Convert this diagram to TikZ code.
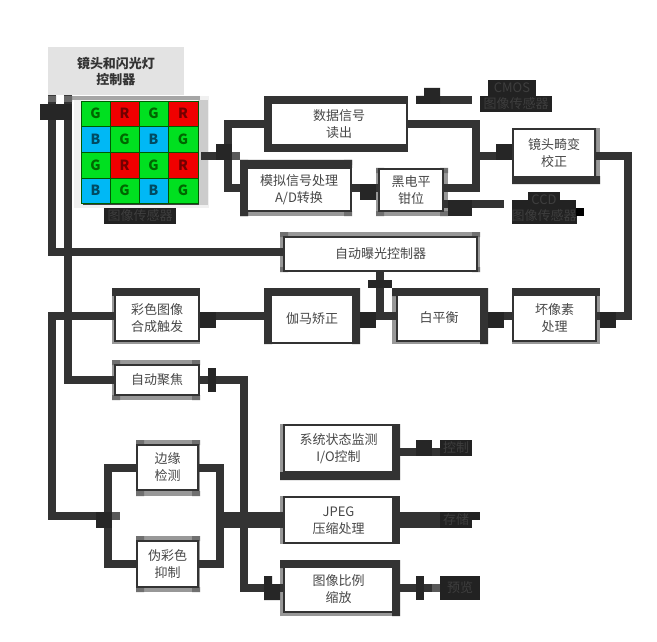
\documentclass[tikz,border=0pt]{standalone}
\usepackage{fontspec}
\setmainfont{Noto Sans CJK SC}
\usetikzlibrary{backgrounds}
\pgfdeclarelayer{bandlayer}
\pgfdeclarelayer{wirelayer}
\pgfsetlayers{bandlayer,wirelayer,main}
\definecolor{ink}{HTML}{333333}
\definecolor{blob}{HTML}{262626}
\definecolor{lab}{HTML}{222222}
\definecolor{labtext}{HTML}{3E3E3E}
\definecolor{bandc}{HTML}{989898}
\definecolor{bandd}{HTML}{707070}
\definecolor{cG}{HTML}{00E020}
\definecolor{cR}{HTML}{F00000}
\definecolor{cB}{HTML}{00B8F5}
\tikzset{
  wire/.style={draw=ink,line width=8pt},
  blobfill/.style={fill=blob},
  boxnode/.style={draw=ink,line width=2pt,fill=white,inner sep=0pt,outer sep=0pt,text=ink!90!white,font=\fontsize{13}{17}\selectfont},
  labnode/.style={fill=lab,inner sep=0pt,outer sep=0pt,align=center,text=labtext,font=\fontsize{13}{16}\selectfont},
  cellnode/.style={inner sep=0pt,outer sep=0pt,draw=black!65!green,line width=0.6pt,font=\fontsize{14}{14}\selectfont\bfseries},
}
% name, inner x1,y1,x2,y2, text
\newcommand\panel[6]{%
  \pgfmathsetmacro\pw{#4-#2+2}\pgfmathsetmacro\ph{#5-#3+2}%
  \node[boxnode,minimum width=\pw pt,minimum height=\ph pt] (#1) at ({(#2+#4)/2},{(#3+#5)/2}) {\begin{tabular}{@{}c@{}}\rule{0pt}{14.9pt}#6\end{tabular}};}
% outer gray band with darker corners
\newcommand\bandbox[4]{%
  \fill[bandc] (#1,#2) rectangle (#3,#4);
  \fill[bandd] (#1,#2) rectangle ++(8,5) (#3,#2) rectangle ++(-8,5) (#1,#4) rectangle ++(8,-5) (#3,#4) rectangle ++(-8,-5);}
% label node: name, x1,y1,x2,y2, text
\newcommand\labl[6]{%
  \pgfmathsetmacro\pw{#4-#2}\pgfmathsetmacro\ph{#5-#3}%
  \node[labnode,minimum width=\pw pt,minimum height=\ph pt] (#1) at ({(#2+#4)/2},{(#3+#5)/2}) {#6};}
\begin{document}
\begin{tikzpicture}[x=1pt,y=-1pt]
\useasboundingbox (0,0) rectangle (657,642);
\begin{pgfonlayer}{bandlayer}
\fill[white] (0,0) rectangle (657,642);
\end{pgfonlayer}

% controller
\node[fill=black!11,inner sep=0pt,outer sep=0pt,minimum width=136pt,minimum height=48pt,align=center,text=ink,font=\fontsize{13}{16.5}\selectfont\bfseries] (ctrl) at (116,71.5) {镜头和闪光灯\\控制器};

% sensor halo and cells
\begin{pgfonlayer}{bandlayer}
  \fill[black!6] (74,96) rectangle (209,208);
  \fill[black!35] (72,96) rectangle (200,100);
  \fill[black!20] (198,100) rectangle (208,205);
  \fill[black!75] (83,202) rectangle (199,205);
  \fill[black!75] (197,103) rectangle (199,205);
\end{pgfonlayer}
\node[inner sep=0pt,outer sep=0pt,minimum width=117pt,minimum height=102pt] (sens) at (139.5,152) {};
\node[cellnode,fill=cG,text=black!60!green,minimum width=29pt,minimum height=25pt] (c11) at (95.5,113.5) {G};
\node[cellnode,fill=cR,text=black!55!red,minimum width=29pt,minimum height=25pt] (c12) at (124.5,113.5) {R};
\node[cellnode,fill=cG,text=black!60!green,minimum width=29pt,minimum height=25pt] (c13) at (153.5,113.5) {G};
\node[cellnode,fill=cR,text=black!55!red,minimum width=30pt,minimum height=25pt] (c14) at (183,113.5) {R};
\node[cellnode,fill=cB,text=black!60!cB,minimum width=29pt,minimum height=26pt] (c21) at (95.5,139) {B};
\node[cellnode,fill=cG,text=black!60!green,minimum width=29pt,minimum height=26pt] (c22) at (124.5,139) {G};
\node[cellnode,fill=cB,text=black!60!cB,minimum width=29pt,minimum height=26pt] (c23) at (153.5,139) {B};
\node[cellnode,fill=cG,text=black!60!green,minimum width=30pt,minimum height=26pt] (c24) at (183,139) {G};
\node[cellnode,fill=cG,text=black!60!green,minimum width=29pt,minimum height=26pt] (c31) at (95.5,165) {G};
\node[cellnode,fill=cR,text=black!55!red,minimum width=29pt,minimum height=26pt] (c32) at (124.5,165) {R};
\node[cellnode,fill=cG,text=black!60!green,minimum width=29pt,minimum height=26pt] (c33) at (153.5,165) {G};
\node[cellnode,fill=cR,text=black!55!red,minimum width=30pt,minimum height=26pt] (c34) at (183,165) {R};
\node[cellnode,fill=cB,text=black!60!cB,minimum width=29pt,minimum height=25pt] (c41) at (95.5,190.5) {B};
\node[cellnode,fill=cG,text=black!60!green,minimum width=29pt,minimum height=25pt] (c42) at (124.5,190.5) {G};
\node[cellnode,fill=cB,text=black!60!cB,minimum width=29pt,minimum height=25pt] (c43) at (153.5,190.5) {B};
\node[cellnode,fill=cG,text=black!60!green,minimum width=30pt,minimum height=25pt] (c44) at (183,190.5) {G};

% bands round the boxes
\begin{pgfonlayer}{bandlayer}
  \fill[ink] (264,96) rectangle (408,152);
  \bandbox{240}{160}{352}{216}
  \fill[ink] (240,160) rectangle (352,168) (240,160) rectangle (248,216);
  \bandbox{376}{168}{448}{216}
  \fill[bandc] (512,128) rectangle (600,184);
  \fill[ink] (512,176) rectangle (600,184) (594,130) rectangle (596,176);
  \bandbox{280}{232}{480}{272}
  \fill[bandc] (112,288) rectangle (200,344);
  \fill[ink] (112,288) rectangle (200,296);
  \fill[bandc] (264,288) rectangle (360,344);
  \fill[ink] (264,288) rectangle (360,296) (264,288) rectangle (272,344) (352,288) rectangle (360,344);
  \fill[bandc] (392,288) rectangle (488,344);
  \fill[ink] (392,288) rectangle (488,296) (480,288) rectangle (488,344);
  \fill[bandc] (512,288) rectangle (600,344);
  \fill[ink] (512,288) rectangle (600,296);
  \bandbox{112}{360}{200}{400}
  \fill[bandc] (280,424) rectangle (400,480);
  \fill[ink] (280,472) rectangle (400,480) (392,424) rectangle (400,480);
  \fill[bandc] (280,496) rectangle (400,544);
  \fill[ink] (392,496) rectangle (400,544);
  \fill[bandc] (280,560) rectangle (400,616);
  \fill[ink] (280,560) rectangle (400,568) (392,560) rectangle (400,616);
  \bandbox{136}{440}{200}{496}
  \bandbox{136}{536}{200}{592}
\end{pgfonlayer}

% boxes
\panel{dsp}{272}{104}{406}{144}{数据信号\\读出}
\panel{ana}{248}{169}{350}{210}{模拟信号处理\\A/D转换}
\panel{blk}{380}{170}{442}{210}{黑电平\\钳位}
\panel{lens}{514}{130}{594}{176}{镜头畸变\\校正}
\panel{exp}{285}{238}{476}{270}{自动曝光控制器}
\panel{col}{116}{296}{198}{340}{彩色图像\\合成触发}
\panel{gam}{272}{296}{352}{342}{伽马矫正}
\panel{wb}{398}{296}{480}{340}{白平衡}
\panel{bad}{514}{296}{595}{340}{坏像素\\处理}
\panel{af}{116}{366}{198}{394}{自动聚焦}
\panel{sys}{285}{426}{392}{471}{系统状态监测\\I/O控制}
\panel{jpeg}{285}{498}{392}{542}{JPEG\\压缩处理}
\panel{scl}{285}{568}{392}{611}{图像比例\\缩放}
\panel{edge}{138}{446}{197}{489}{边缘\\检测}
\panel{fc}{138}{542}{197}{586}{伪彩色\\抑制}

% dark labels
\labl{cap}{104}{208}{176}{224}{图像传感器}
\labl{cmosb}{480}{96}{552}{112}{图像传感器}
\labl{cmosa}{488}{80}{536}{96}{CMOS}
\labl{ccdb}{512}{208}{576}{224}{图像传感器}
\labl{ccda}{528}{192}{560}{208}{CCD}
\labl{ctl}{440}{440}{472}{456}{控制}
\labl{sto}{440}{512}{472}{528}{存储}
\labl{pre}{440}{576}{480}{600}{预览}

\coordinate (cmosL) at (416,100);
\coordinate (cmosR) at (472,100);
\coordinate (ccdR) at (504,204);

% connectors
\begin{pgfonlayer}{wirelayer}
  \draw[wire] (ctrl.south -| 52,0) -- (52,252) -- (exp.west |- 0,252);
  \draw[wire] (ctrl.south -| 68,0) -- (68,380) -- (af.west |- 0,380);
  \draw[wire] (col.west |- 0,316) -- (52,316) -- (52,516) -- (108,516);
  \draw[wire] (edge.west |- 0,468) -- (108,468) -- (108,564) -- (fc.west |- 0,564);
  \draw[wire] (edge.east |- 0,468) -- (220,468) -- (220,564) -- (fc.east |- 0,564);
  \draw[ink,line width=16pt] (216,520) -- (jpeg.west |- 0,520);
  \draw[wire] (af.east |- 0,380) -- (244,380) -- (244,588) -- (scl.west |- 0,588);
  \draw[wire] ([xshift=3pt]sens.east |- 0,156) -- (232,156);
  \draw[wire] (dsp.west |- 0,124) -- (228,124) -- (228,188) -- (ana.west |- 0,188);
  \draw[wire] (ana.east |- 0,188) -- (blk.west |- 0,188);
  \draw[wire] (blk.east |- 0,188) -- (476,188) -- (476,124) -- (dsp.east |- 0,124);
  \draw[wire] (476,156) -- (lens.west |- 0,156);
  \draw[wire] (lens.east |- 0,156) -- (628,156) -- (628,316) -- (bad.east |- 0,316);
  \draw[wire] (bad.west |- 0,316) -- (wb.east |- 0,316);
  \draw[wire] (wb.west |- 0,316) -- (gam.east |- 0,316);
  \draw[wire] (gam.west |- 0,316) -- (col.east |- 0,316);
  \draw[wire] (exp.south -| 380,0) -- (380,316);
  \draw[wire] (cmosL) -- (cmosR);
  \draw[wire] (blk.east |- 0,204) -- (ccdR);
  \draw[wire] (sys.east |- 0,452) -- (ctl.west |- 0,452);
  \draw[ink,line width=16pt] (jpeg.east |- 0,520) -- (sto.west |- 0,520);
  \draw[wire] (scl.east |- 0,588) -- (pre.west |- 0,588);
\end{pgfonlayer}

% junction blobs and faded ends
\fill[blobfill] (40,104) rectangle (72,120);
\fill[black!60] (48,96) rectangle (56,102) (64,96) rectangle (72,102);
\fill[blobfill] (216,144) rectangle (232,160);
\fill[black!65] (232,152) rectangle (240,160);
\fill[blobfill] (360,184) rectangle (376,200);
\fill[blobfill] (496,144) rectangle (512,160);
\fill[blobfill] (600,312) rectangle (616,328);
\fill[blobfill] (488,312) rectangle (504,328);
\fill[blobfill] (360,312) rectangle (376,328);
\fill[blobfill] (368,280) rectangle (392,288);
\fill[blobfill] (200,312) rectangle (216,328);
\fill[blobfill] (208,368) rectangle (216,392);
\fill[blobfill] (96,512) rectangle (112,528);
\fill[black!65] (112,512) rectangle (120,520);
\fill[blobfill] (264,576) rectangle (272,584) (264,584) rectangle (280,600);
\fill[blobfill] (416,96) rectangle (440,104) (424,88) rectangle (440,96);
\fill[blobfill] (448,200) rectangle (472,216);
\fill[blobfill] (416,440) rectangle (432,456);
\fill[blobfill] (416,576) rectangle (424,600);
\fill[black!65] (432,584) rectangle (440,592);
\fill[lab] (472,512) rectangle (480,520);
\fill[lab] (512,200) rectangle (528,208);
\fill[lab] (560,200) rectangle (576,208);
\fill[black] (576,208) rectangle (584,216);
\end{tikzpicture}
\end{document}
